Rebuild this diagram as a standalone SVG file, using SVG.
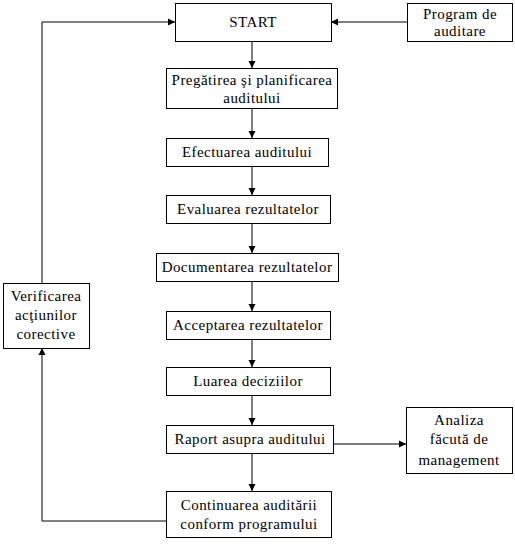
<svg xmlns="http://www.w3.org/2000/svg" width="515" height="544" viewBox="0 0 515 544">
<style>
.b{fill:#fff;stroke:#000;stroke-width:1}
.t{font-family:'Liberation Serif','Times New Roman',Times,serif;font-size:15px;letter-spacing:0.45px;fill:#000;text-anchor:middle}
.c{fill:none;stroke:#000;stroke-width:1}
</style>
<defs>
<marker id="ah" markerUnits="userSpaceOnUse" markerWidth="8" markerHeight="8" refX="7" refY="4" orient="auto">
<path d="M0,0.5 L7,4 L0,7.5 Z" fill="#000"/>
</marker>
</defs>
<rect width="515" height="544" fill="#fff"/>
<g id="connectors">
<path class="c" d="M42,283 V22 H175" marker-end="url(#ah)"/>
<path class="c" d="M407,22 H331" marker-end="url(#ah)"/>
<path class="c" d="M252,41 V68" marker-end="url(#ah)"/>
<path class="c" d="M252,108 V138" marker-end="url(#ah)"/>
<path class="c" d="M252,166 V195" marker-end="url(#ah)"/>
<path class="c" d="M252,223 V253" marker-end="url(#ah)"/>
<path class="c" d="M252,281 V311" marker-end="url(#ah)"/>
<path class="c" d="M252,339 V367" marker-end="url(#ah)"/>
<path class="c" d="M252,395 V425" marker-end="url(#ah)"/>
<path class="c" d="M333,444 H406" marker-end="url(#ah)"/>
<path class="c" d="M252,453 V491" marker-end="url(#ah)"/>
<path class="c" d="M166,521 H42 V348" marker-end="url(#ah)"/>
</g>
<g id="start"><rect class="b" x="175.5" y="3.5" width="156" height="38"/><text class="t" x="253" y="27">START</text></g>
<g id="program"><rect class="b" x="407.5" y="3.5" width="105" height="38"/><text class="t" x="460" y="19">Program de</text><text class="t" x="460" y="36">auditare</text></g>
<g id="pregatirea"><rect class="b" x="166.5" y="68.5" width="171" height="40"/><text class="t" x="252" y="85">Pregătirea şi planificarea</text><text class="t" x="252" y="103">auditului</text></g>
<g id="efectuarea"><rect class="b" x="166.5" y="138.5" width="162" height="28"/><text class="t" x="247" y="157">Efectuarea auditului</text></g>
<g id="evaluarea"><rect class="b" x="166.5" y="195.5" width="164" height="28"/><text class="t" x="248" y="214">Evaluarea rezultatelor</text></g>
<g id="documentarea"><rect class="b" x="156.5" y="253.5" width="182" height="28"/><text class="t" x="247" y="272">Documentarea rezultatelor</text></g>
<g id="acceptarea"><rect class="b" x="166.5" y="311.5" width="164" height="28"/><text class="t" x="248" y="330">Acceptarea rezultatelor</text></g>
<g id="luarea"><rect class="b" x="166.5" y="367.5" width="164" height="28"/><text class="t" x="248" y="386">Luarea deciziilor</text></g>
<g id="raport"><rect class="b" x="166.5" y="425.5" width="167" height="28"/><text class="t" x="250" y="444">Raport asupra auditului</text></g>
<g id="analiza"><rect class="b" x="406.5" y="407.5" width="106" height="66"/><text class="t" x="459" y="425">Analiza</text><text class="t" x="459" y="444">făcută de</text><text class="t" x="459" y="465">management</text></g>
<g id="continuarea"><rect class="b" x="166.5" y="491.5" width="165" height="46"/><text class="t" x="249" y="510">Continuarea auditării</text><text class="t" x="249" y="529">conform programului</text></g>
<g id="verificarea"><rect class="b" x="3.5" y="283.5" width="86" height="65"/><text class="t" x="46" y="301">Verificarea</text><text class="t" x="46" y="320">acţiunilor</text><text class="t" x="46" y="339">corective</text></g>
</svg>
